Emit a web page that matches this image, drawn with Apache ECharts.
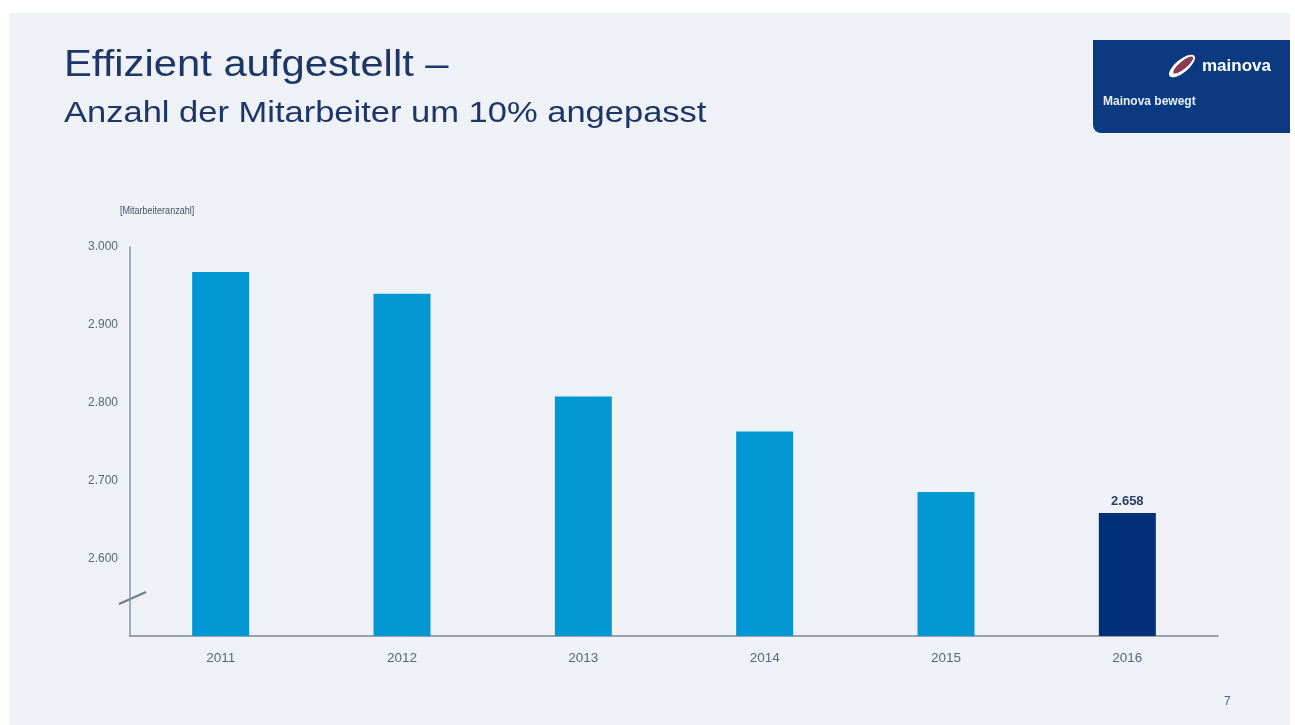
<!DOCTYPE html>
<html>
<head>
<meta charset="utf-8">
<script src="https://cdn.jsdelivr.net/npm/echarts@6/dist/echarts.min.js"></script>
<style>
html,body{margin:0;padding:0;background:#ffffff;}
#main{width:1295px;height:725px;}
</style>
</head>
<body>
<div id="main"></div>
<script>
const categories = ['2011', '2012', '2013', '2014', '2015', '2016'];
const employees = [2968, 2940, 2808, 2763, 2685, 2658];
const yTicks = [2500, 2600, 2700, 2800, 2900, 3000];
const yUnit = '[Mitarbeiteranzahl]';
const highlightIndex = 5;

const chart = echarts.init(document.getElementById('main'));
const fmt = v => String(v).replace(/\B(?=(\d{3})+(?!\d))/g, '.');
const FONT = '"Liberation Sans", Arial, sans-serif';

const option = {
  backgroundColor: '#ffffff',
  animation: false,
  textStyle: { fontFamily: FONT },
  grid: { left: 130, right: 77, top: 247, bottom: 89 },
  xAxis: {
    type: 'category',
    data: categories,
    axisLine: { show: true, lineStyle: { color: '#7d8793', width: 1.5 } },
    axisTick: { show: false },
    axisLabel: { color: '#5f6672', fontSize: 13.5, margin: 15 }
  },
  yAxis: {
    type: 'value',
    min: yTicks[0],
    max: yTicks[yTicks.length - 1],
    interval: 100,
    axisLine: { show: true, lineStyle: { color: '#8a94a0', width: 1.5 } },
    axisTick: { show: false },
    splitLine: { show: false },
    axisLabel: {
      color: '#5f6672', fontSize: 12, margin: 12,
      formatter: v => (v === yTicks[0] ? '' : fmt(v))
    }
  },
  series: [{
    type: 'bar',
    barWidth: 57,
    data: employees.map((v, i) => ({
      value: v,
      itemStyle: { color: i === highlightIndex ? '#03307a' : '#0398d4' },
      label: i === highlightIndex ? {
        show: true, position: 'top', distance: 5,
        color: '#2a3e66', fontWeight: 'bold', fontSize: 13,
        formatter: p => fmt(p.value)
      } : { show: false }
    }))
  }],
  graphic: [
    { type: 'rect', z: -10, shape: { x: 9, y: 13, width: 1281, height: 712 }, style: { fill: '#eef2f6' } },
    { type: 'text', x: 64, y: 66, scaleX: 1.16, style: { text: 'Effizient aufgestellt –', fill: '#1e3565', font: '36px ' + FONT, verticalAlign: 'middle' } },
    { type: 'text', x: 64, y: 114, scaleX: 1.15, style: { text: 'Anzahl der Mitarbeiter um 10% angepasst', fill: '#1e3565', font: '30px ' + FONT, verticalAlign: 'middle' } },
    { type: 'text', x: 120, y: 211, scaleX: 0.82, style: { text: yUnit, fill: '#4a5262', font: '11px ' + FONT, verticalAlign: 'middle' } },
    { type: 'rect', shape: { x: 1093, y: 40, width: 197, height: 93, r: [0, 0, 0, 8] }, style: { fill: '#0b3a80' } },
    { type: 'group', x: 1182, y: 66, rotation: Math.PI * 0.22, children: [
      { type: 'circle', scaleX: 1, scaleY: 0.4, shape: { cx: 0, cy: 0, r: 16 }, style: { fill: '#ffffff' } },
      { type: 'circle', scaleX: 1, scaleY: 0.3, shape: { cx: 1.5, cy: 0, r: 12.5 }, style: { fill: '#8a3a52' } }
    ] },
    { type: 'text', x: 1202, y: 66, style: { text: 'mainova', fill: '#ffffff', font: 'bold 17px ' + FONT, verticalAlign: 'middle' } },
    { type: 'text', x: 1103, y: 102, style: { text: 'Mainova bewegt', fill: '#e8eef8', font: 'bold 12px ' + FONT, verticalAlign: 'middle' } },
    { type: 'text', x: 1224, y: 702, style: { text: '7', fill: '#5a6170', font: '12px ' + FONT, verticalAlign: 'middle' } },
    { type: 'line', shape: { x1: 119, y1: 604, x2: 146, y2: 592 }, style: { stroke: '#707a88', lineWidth: 2 } }
  ]
};
chart.setOption(option);
</script>
</body>
</html>
